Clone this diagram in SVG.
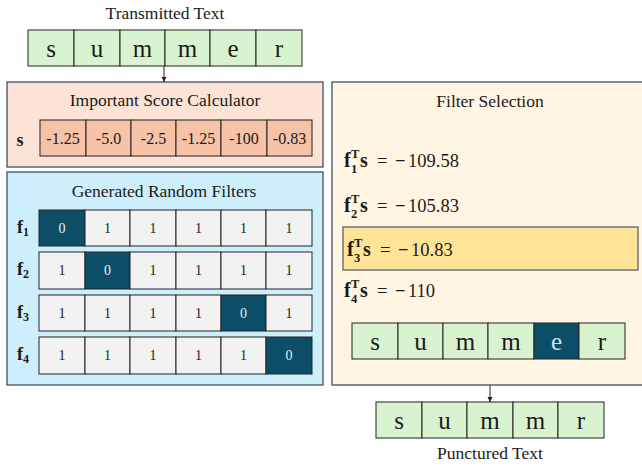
<svg xmlns="http://www.w3.org/2000/svg" width="642" height="468" viewBox="0 0 642 468" font-family="'Liberation Serif','DejaVu Serif',serif">
<defs>
<style>
text{font-family:'Liberation Serif','DejaVu Serif','Times New Roman',serif;fill:#1a1a1a}
.title{font-size:17.5px;text-anchor:middle}
.ch{font-size:25px;text-anchor:middle}
.num{font-size:16px;text-anchor:middle}
.bit{font-size:14px;text-anchor:middle}
.bitw{font-size:14px;text-anchor:middle;fill:#e8eef2}
.chw{font-size:25px;text-anchor:middle;fill:#cfe0e8}
.g{fill:#d9f2d0;stroke:#222;stroke-width:1}
.sc{fill:#f6c2a8;stroke:#222;stroke-width:1}
.w{fill:#f2f2f2;stroke:#222;stroke-width:1}
.d{fill:#0c4e68;stroke:#222;stroke-width:1}
.b{font-weight:bold}
.eq{font-size:18.5px}
.fs{font-size:20px;font-weight:bold}
.sb{font-size:12.5px;font-weight:bold}
</style>
<marker id="arr" markerWidth="6" markerHeight="6" refX="5" refY="3" orient="auto" markerUnits="userSpaceOnUse">
<path d="M0,0.5 L5,3 L0,5.5 Z" fill="#222"/>
</marker>
</defs>

<g id="transmitted">
<text class="title" x="165" y="18.5">Transmitted Text</text>
<rect class="g" x="28" y="30" width="46" height="36"/>
<rect class="g" x="74" y="30" width="46" height="36"/>
<rect class="g" x="120" y="30" width="45" height="36"/>
<rect class="g" x="165" y="30" width="45" height="36"/>
<rect class="g" x="210" y="30" width="46" height="36"/>
<rect class="g" x="256" y="30" width="46" height="36"/>
<text class="ch" x="51" y="56.5">s</text>
<text class="ch" x="97" y="56.5">u</text>
<text class="ch" x="142.5" y="56.5">m</text>
<text class="ch" x="187.5" y="56.5">m</text>
<text class="ch" x="233" y="56.5">e</text>
<text class="ch" x="279" y="56.5">r</text>
</g>

<g id="score">
<rect x="7" y="82" width="316" height="85" fill="#fde3d6" stroke="#3e5262" stroke-width="1.3"/>
<text class="title" x="165" y="106">Important Score Calculator</text>
<text x="20" y="146" font-size="18" class="b" text-anchor="middle">s</text>
<rect class="sc" x="40" y="120" width="46" height="36"/>
<rect class="sc" x="86" y="120" width="45" height="36"/>
<rect class="sc" x="131" y="120" width="45" height="36"/>
<rect class="sc" x="176" y="120" width="45" height="36"/>
<rect class="sc" x="221" y="120" width="46" height="36"/>
<rect class="sc" x="267" y="120" width="45" height="36"/>
<text class="num" x="63" y="144">-1.25</text>
<text class="num" x="108.5" y="144">-5.0</text>
<text class="num" x="153.5" y="144">-2.5</text>
<text class="num" x="198.5" y="144">-1.25</text>
<text class="num" x="244" y="144">-100</text>
<text class="num" x="289.5" y="144">-0.83</text>
</g>

<g id="filters">
<rect x="7" y="172" width="316" height="213" fill="#cdeefb" stroke="#3e5262" stroke-width="1.3"/>
<text class="title" x="164" y="197">Generated Random Filters</text>
<g id="f1">
<text x="17" y="233" font-size="18" class="b">f<tspan font-size="12" dy="3">1</tspan></text>
<rect class="d" x="39" y="210" width="46" height="36"/>
<rect class="w" x="85" y="210" width="45" height="36"/>
<rect class="w" x="130" y="210" width="46" height="36"/>
<rect class="w" x="176" y="210" width="45" height="36"/>
<rect class="w" x="221" y="210" width="45" height="36"/>
<rect class="w" x="266" y="210" width="46" height="36"/>
<text class="bitw" x="62" y="233">0</text>
<text class="bit" x="107.5" y="233">1</text>
<text class="bit" x="153" y="233">1</text>
<text class="bit" x="198.5" y="233">1</text>
<text class="bit" x="243.5" y="233">1</text>
<text class="bit" x="289" y="233">1</text>
</g>
<g id="f2">
<text x="17" y="275" font-size="18" class="b">f<tspan font-size="12" dy="3">2</tspan></text>
<rect class="w" x="39" y="252" width="46" height="37"/>
<rect class="d" x="85" y="252" width="45" height="37"/>
<rect class="w" x="130" y="252" width="46" height="37"/>
<rect class="w" x="176" y="252" width="45" height="37"/>
<rect class="w" x="221" y="252" width="45" height="37"/>
<rect class="w" x="266" y="252" width="46" height="37"/>
<text class="bit" x="62" y="275">1</text>
<text class="bitw" x="107.5" y="275">0</text>
<text class="bit" x="153" y="275">1</text>
<text class="bit" x="198.5" y="275">1</text>
<text class="bit" x="243.5" y="275">1</text>
<text class="bit" x="289" y="275">1</text>
</g>
<g id="f3">
<text x="17" y="318" font-size="18" class="b">f<tspan font-size="12" dy="3">3</tspan></text>
<rect class="w" x="39" y="295" width="46" height="36"/>
<rect class="w" x="85" y="295" width="45" height="36"/>
<rect class="w" x="130" y="295" width="46" height="36"/>
<rect class="w" x="176" y="295" width="45" height="36"/>
<rect class="d" x="221" y="295" width="45" height="36"/>
<rect class="w" x="266" y="295" width="46" height="36"/>
<text class="bit" x="62" y="318">1</text>
<text class="bit" x="107.5" y="318">1</text>
<text class="bit" x="153" y="318">1</text>
<text class="bit" x="198.5" y="318">1</text>
<text class="bitw" x="243.5" y="318">0</text>
<text class="bit" x="289" y="318">1</text>
</g>
<g id="f4">
<text x="17" y="360" font-size="18" class="b">f<tspan font-size="12" dy="3">4</tspan></text>
<rect class="w" x="39" y="337" width="46" height="37"/>
<rect class="w" x="85" y="337" width="45" height="37"/>
<rect class="w" x="130" y="337" width="46" height="37"/>
<rect class="w" x="176" y="337" width="45" height="37"/>
<rect class="w" x="221" y="337" width="45" height="37"/>
<rect class="d" x="266" y="337" width="46" height="37"/>
<text class="bit" x="62" y="360">1</text>
<text class="bit" x="107.5" y="360">1</text>
<text class="bit" x="153" y="360">1</text>
<text class="bit" x="198.5" y="360">1</text>
<text class="bit" x="243.5" y="360">1</text>
<text class="bitw" x="289" y="360">0</text>
</g>
</g>

<g id="selection">
<rect x="332" y="82" width="312" height="303" fill="#fff5e2" stroke="#3e5262" stroke-width="1.3"/>
<text class="title" x="490" y="107">Filter Selection</text>
<rect x="343" y="227" width="295" height="43" fill="#ffe497" stroke="#55646a" stroke-width="1.3"/>
<text id="eq1" class="eq"><tspan class="fs" x="344" y="167">f</tspan><tspan class="sb" x="351" y="173">1</tspan><tspan class="sb" x="351" y="158">T</tspan><tspan class="fs" x="360" y="167">s</tspan><tspan x="377" y="167">=</tspan><tspan class="b" x="395" y="167">−</tspan><tspan x="408" y="167">109.58</tspan></text>
<text id="eq2" class="eq"><tspan class="fs" x="344" y="212">f</tspan><tspan class="sb" x="351" y="218">2</tspan><tspan class="sb" x="351" y="203">T</tspan><tspan class="fs" x="360" y="212">s</tspan><tspan x="377" y="212">=</tspan><tspan class="b" x="395" y="212">−</tspan><tspan x="408" y="212">105.83</tspan></text>
<text id="eq3" class="eq"><tspan class="fs" x="347" y="256">f</tspan><tspan class="sb" x="354" y="262">3</tspan><tspan class="sb" x="354" y="247">T</tspan><tspan class="fs" x="363" y="256">s</tspan><tspan x="380" y="256">=</tspan><tspan class="b" x="398" y="256">−</tspan><tspan x="411" y="256">10.83</tspan></text>
<text id="eq4" class="eq"><tspan class="fs" x="344" y="297">f</tspan><tspan class="sb" x="351" y="303">4</tspan><tspan class="sb" x="351" y="288">T</tspan><tspan class="fs" x="360" y="297">s</tspan><tspan x="377" y="297">=</tspan><tspan class="b" x="395" y="297">−</tspan><tspan x="408" y="297">110</tspan></text>
<g id="masked">
<rect class="g" x="352" y="323" width="46" height="36"/>
<rect class="g" x="398" y="323" width="45" height="36"/>
<rect class="g" x="443" y="323" width="45" height="36"/>
<rect class="g" x="488" y="323" width="46" height="36"/>
<rect class="d" x="534" y="323" width="45" height="36"/>
<rect class="g" x="579" y="323" width="46" height="36"/>
<text class="ch" x="375" y="349.5">s</text>
<text class="ch" x="420.5" y="349.5">u</text>
<text class="ch" x="465.5" y="349.5">m</text>
<text class="ch" x="511" y="349.5">m</text>
<text class="chw" x="556.5" y="349.5">e</text>
<text class="ch" x="602" y="349.5">r</text>
</g>
</g>

<g id="punctured">
<rect class="g" x="376" y="402" width="46" height="36"/>
<rect class="g" x="422" y="402" width="45" height="36"/>
<rect class="g" x="467" y="402" width="46" height="36"/>
<rect class="g" x="513" y="402" width="45" height="36"/>
<rect class="g" x="558" y="402" width="46" height="36"/>
<text class="ch" x="399" y="428.5">s</text>
<text class="ch" x="444.5" y="428.5">u</text>
<text class="ch" x="490" y="428.5">m</text>
<text class="ch" x="535.5" y="428.5">m</text>
<text class="ch" x="581" y="428.5">r</text>
<text class="title" x="490" y="459">Punctured Text</text>
</g>

<g id="connectors" stroke="#222" stroke-width="1" fill="none">
<line x1="164" y1="66" x2="164" y2="82" marker-end="url(#arr)"/>
<line x1="490" y1="385" x2="490" y2="402" marker-end="url(#arr)"/>
</g>
</svg>
